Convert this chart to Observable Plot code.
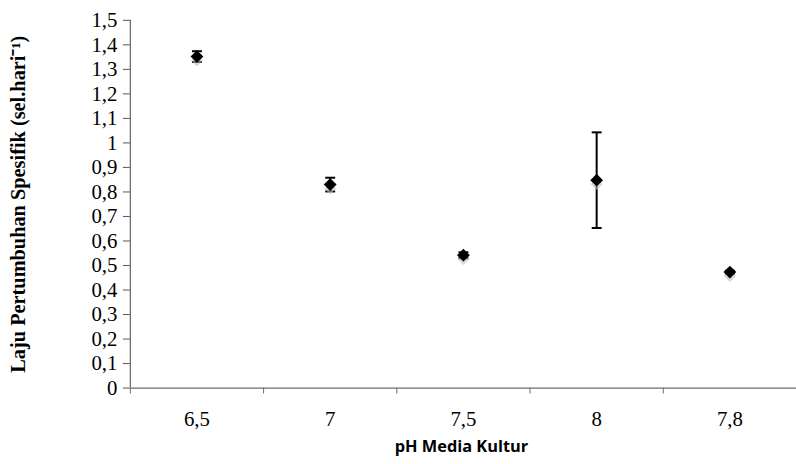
<!DOCTYPE html>
<html>
<head>
<meta charset="utf-8">
<script src="https://cdn.jsdelivr.net/npm/d3@7"></script>
<script src="https://cdn.jsdelivr.net/npm/@observablehq/plot@0.6"></script>
<style>
  html, body { margin: 0; padding: 0; background: #fff; overflow: hidden; }
  #chart { width: 796px; height: 464px; overflow: hidden; }
</style>
</head>
<body>
<div id="chart"></div>
<script>
const phLabels = ["6,5", "7", "7,5", "8", "7,8"];
const rates = [1.352, 0.83, 0.542, 0.848, 0.473];
const errors = [0.022, 0.028, 0.012, 0.195, 0.006];
const yTicks = [0, 0.1, 0.2, 0.3, 0.4, 0.5, 0.6, 0.7, 0.8, 0.9, 1, 1.1, 1.2, 1.3, 1.4, 1.5];
const yTitle = "Laju Pertumbuhan Spesifik (sel.hari\u207B\u00B9)";
const xTitle = "pH Media Kultur";

const data = phLabels.map((label, i) => ({
  i, pos: i + 0.5, label, rate: rates[i], lo: rates[i] - errors[i], hi: rates[i] + errors[i]
}));

const capSymbol = {
  draw(ctx, size) {
    const w = 5;
    ctx.moveTo(-w, 0);
    ctx.lineTo(w, 0);
  }
};

const fmt = v => d3.format(".1~f")(v).replace(".", ",");
const serif = "Liberation Serif";
const axisColor = "#6e6e6e";

const chart = Plot.plot({
  width: 803,
  height: 464,
  marginLeft: 131,
  marginRight: 0,
  marginTop: 20,
  marginBottom: 73,
  style: { fontFamily: "Liberation Serif, serif", background: "#fff", overflow: "visible" },
  x: { domain: [0, 5], axis: null },
  y: { domain: [0, 1.5], axis: null },
  marks: [
    // y axis
    Plot.ruleX([0], { stroke: axisColor, strokeWidth: 1.3 }),
    Plot.axisY({
      ticks: yTicks, tickFormat: fmt, tickSize: 7, tickPadding: 6,
      stroke: "#555", fontSize: 21, fontFamily: serif, fill: "#000", label: null
    }),
    // x axis
    Plot.ruleY([0], { stroke: axisColor, strokeWidth: 1.3 }),
    Plot.axisX({
      ticks: [0, 1, 2, 3, 4, 5], tickFormat: () => "", tickSize: 6,
      stroke: axisColor, label: null
    }),
    Plot.axisX({
      ticks: data.map(d => d.pos), tickFormat: (v, k) => phLabels[k], tickSize: 0,
      tickPadding: 20, dy: 3, fontSize: 21, fontFamily: serif, fill: "#000", label: null
    }),
    // error bars
    Plot.ruleX(data, { x: "pos", y1: "lo", y2: "hi", stroke: "#000", strokeWidth: 2 }),
    Plot.dot(data, { x: "pos", y: "lo", symbol: capSymbol, stroke: "#000", strokeWidth: 2, r: 5 }),
    Plot.dot(data, { x: "pos", y: "hi", symbol: capSymbol, stroke: "#000", strokeWidth: 2, r: 5 }),
    // marker shadow
    Plot.dot(data, { x: "pos", y: "rate", symbol: "diamond2", fill: "#bdbdbd", fillOpacity: 0.6, stroke: "none", r: 5.4, dy: 4 }),
    // markers
    Plot.dot(data, { x: "pos", y: "rate", symbol: "diamond2", fill: "#000", stroke: "none", r: 5.8 }),
    // titles
    Plot.text([yTitle], {
      frameAnchor: "left", textAnchor: "middle", rotate: -90, dx: -113, dy: 0,
      fontSize: 20.5, fontWeight: "bold", fontFamily: serif, fill: "#000"
    }),
    Plot.text([xTitle], {
      frameAnchor: "bottom", dy: 64, dx: -2, fontSize: 16.5, fontWeight: "bold",
      fontFamily: "Open Sans", fill: "#000"
    })
  ]
});

document.getElementById("chart").appendChild(chart);
</script>
</body>
</html>
